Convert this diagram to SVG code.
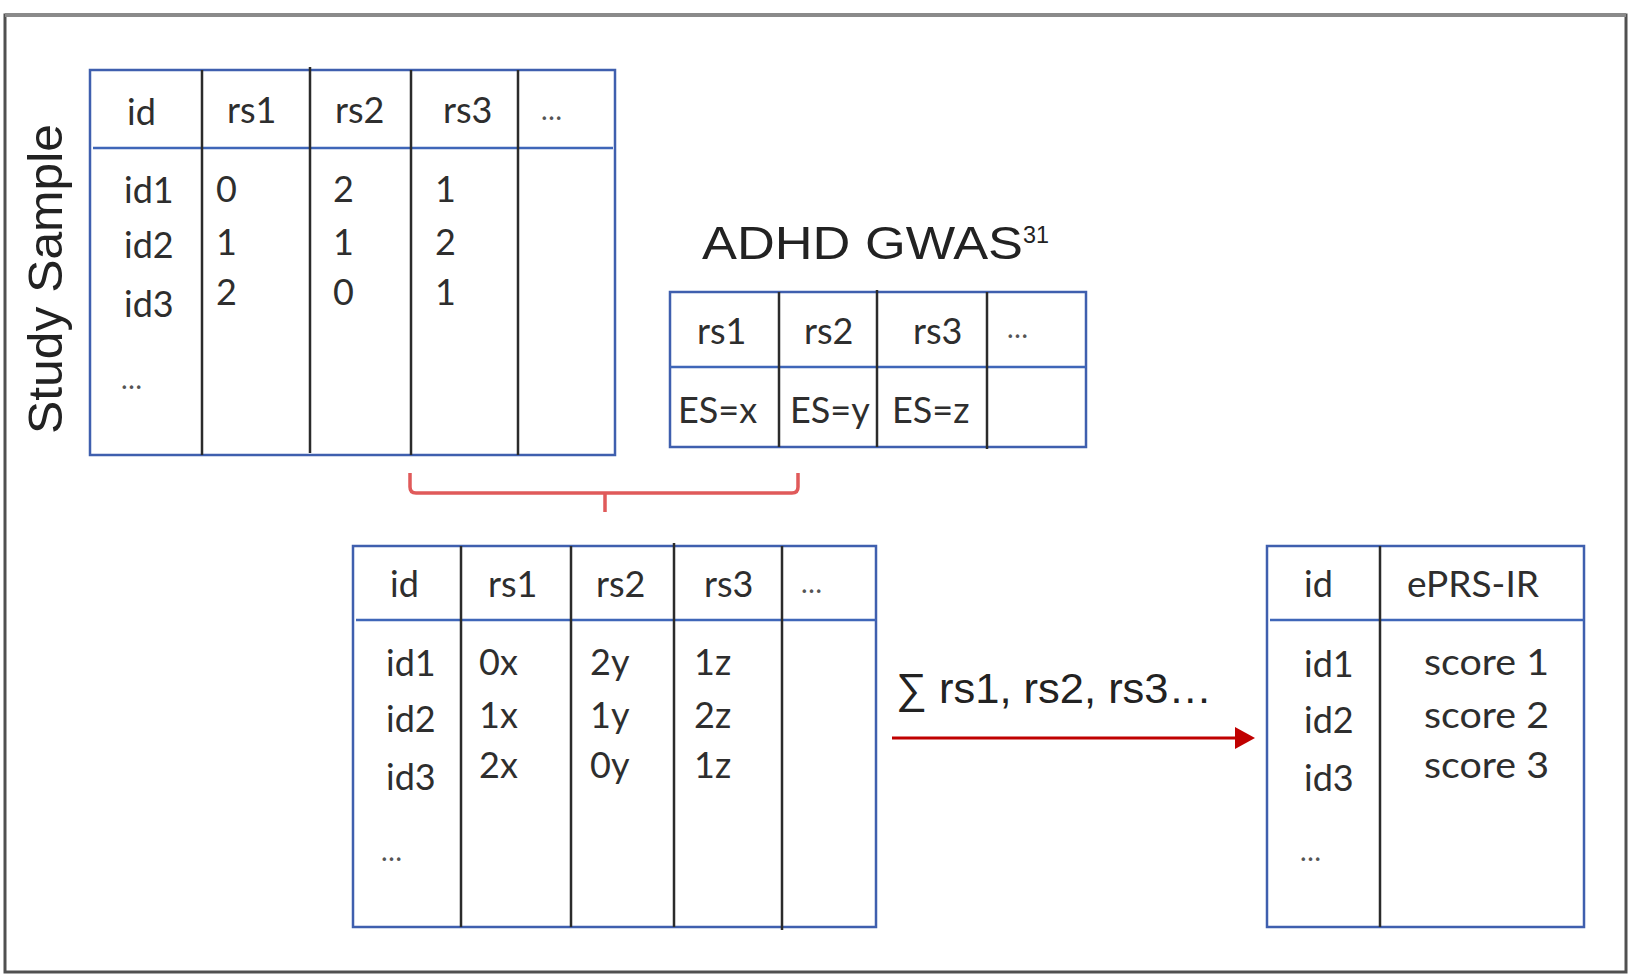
<svg xmlns="http://www.w3.org/2000/svg" width="1628" height="976" viewBox="0 0 1628 976">
<style>
.tb{fill:#fff;stroke:#3f5fae;stroke-width:2.5}
.hd{stroke:#3f66b8;stroke-width:2.5}
.col{stroke:#2b2b2b;stroke-width:2.5}
.t{font-family:Lato,"Open Sans",sans-serif;font-size:36px;fill:#2e2e2e}
.dots{font-family:Lato,"Open Sans",sans-serif;font-size:28px;fill:#555}
.a{font-family:"Liberation Sans",Arial,sans-serif;fill:#222}
</style>
<defs>
<marker id="ah" viewBox="0 0 20 22" refX="1" refY="11" markerWidth="20" markerHeight="22" markerUnits="userSpaceOnUse" orient="auto">
<polygon points="0,0 20,11 0,22" fill="#c00000"/>
</marker>
</defs>
<rect x="5" y="15" width="1621" height="957" fill="#fff" stroke="#505050" stroke-width="3"/>
<line x1="5" y1="15" x2="1626" y2="15" stroke="#8a8a8a" stroke-width="4"/>

<g id="label-study">
<text class="a" x="0" y="0" font-size="48" text-anchor="middle" textLength="310" lengthAdjust="spacingAndGlyphs" transform="translate(62,279) rotate(-90)">Study Sample</text>
</g>

<g id="table-study">
<rect class="tb" x="90" y="70" width="525" height="385"/>
<line class="hd" x1="93" y1="148" x2="613" y2="148"/>
<line class="col" x1="202" y1="70" x2="202" y2="455"/>
<line class="col" x1="310" y1="67" x2="310" y2="453"/>
<line class="col" x1="411" y1="70" x2="411" y2="455"/>
<line class="col" x1="518" y1="70" x2="518" y2="455"/>
<text class="t" x="127" y="125">id</text>
<text class="t" x="227" y="123">rs1</text>
<text class="t" x="335" y="123">rs2</text>
<text class="t" x="443" y="123">rs3</text>
<text class="dots" x="541" y="120">…</text>
<text class="t" x="124" y="203">id1</text>
<text class="t" x="124" y="258">id2</text>
<text class="t" x="124" y="317">id3</text>
<text class="dots" x="121" y="389">…</text>
<text class="t" x="216" y="202">0</text>
<text class="t" x="216" y="255">1</text>
<text class="t" x="216" y="305">2</text>
<text class="t" x="333" y="202">2</text>
<text class="t" x="333" y="255">1</text>
<text class="t" x="333" y="305">0</text>
<text class="t" x="435" y="202">1</text>
<text class="t" x="435" y="255">2</text>
<text class="t" x="435" y="305">1</text>
</g>

<g id="label-gwas">
<text class="a" x="702" y="259" font-size="47" textLength="321" lengthAdjust="spacingAndGlyphs">ADHD GWAS</text>
<text class="a" x="1023" y="243" font-size="23" textLength="26" lengthAdjust="spacingAndGlyphs">31</text>
</g>

<g id="table-gwas">
<rect class="tb" x="670" y="292" width="416" height="155"/>
<line class="hd" x1="670" y1="367" x2="1086" y2="367"/>
<line class="col" x1="779" y1="292" x2="779" y2="447"/>
<line class="col" x1="877" y1="290" x2="877" y2="447"/>
<line class="col" x1="987" y1="292" x2="987" y2="449"/>
<text class="t" x="697" y="344">rs1</text>
<text class="t" x="804" y="344">rs2</text>
<text class="t" x="913" y="344">rs3</text>
<text class="dots" x="1007" y="338">…</text>
<text class="t" x="678" y="423">ES=x</text>
<text class="t" x="790" y="423">ES=y</text>
<text class="t" x="892" y="423">ES=z</text>
</g>

<g id="table-combined">
<rect class="tb" x="353" y="546" width="523" height="381"/>
<line class="hd" x1="356" y1="620" x2="876" y2="620"/>
<line class="col" x1="461" y1="546" x2="461" y2="927"/>
<line class="col" x1="571" y1="546" x2="571" y2="927"/>
<line class="col" x1="674" y1="543" x2="674" y2="927"/>
<line class="col" x1="782" y1="546" x2="782" y2="930"/>
<text class="t" x="390" y="597">id</text>
<text class="t" x="488" y="597">rs1</text>
<text class="t" x="596" y="597">rs2</text>
<text class="t" x="704" y="597">rs3</text>
<text class="dots" x="801" y="593">…</text>
<text class="t" x="386" y="676">id1</text>
<text class="t" x="386" y="732">id2</text>
<text class="t" x="386" y="790">id3</text>
<text class="dots" x="381" y="861">…</text>
<text class="t" x="479" y="675">0x</text>
<text class="t" x="479" y="728">1x</text>
<text class="t" x="479" y="778">2x</text>
<text class="t" x="590" y="675">2y</text>
<text class="t" x="590" y="728">1y</text>
<text class="t" x="590" y="778">0y</text>
<text class="t" x="694" y="675">1z</text>
<text class="t" x="694" y="728">2z</text>
<text class="t" x="694" y="778">1z</text>
</g>

<g id="table-eprs">
<rect class="tb" x="1267" y="546" width="317" height="381"/>
<line class="hd" x1="1270" y1="620" x2="1584" y2="620"/>
<line class="col" x1="1380" y1="546" x2="1380" y2="927"/>
<text class="t" x="1304" y="597">id</text>
<text class="t" x="1407" y="597" textLength="132" lengthAdjust="spacingAndGlyphs">ePRS-IR</text>
<text class="t" x="1304" y="677">id1</text>
<text class="t" x="1304" y="733">id2</text>
<text class="t" x="1304" y="791">id3</text>
<text class="dots" x="1300" y="861">…</text>
<text class="t" x="1424" y="675" textLength="125" lengthAdjust="spacingAndGlyphs">score 1</text>
<text class="t" x="1424" y="728" textLength="125" lengthAdjust="spacingAndGlyphs">score 2</text>
<text class="t" x="1424" y="778" textLength="125" lengthAdjust="spacingAndGlyphs">score 3</text>
</g>

<g id="connectors">
<path d="M410,473 L410,487 Q410,493 416,493 L792,493 Q798,493 798,487 L798,473 M605,493 L605,512" fill="none" stroke="#e05a5a" stroke-width="3.5"/>
<line x1="892" y1="738" x2="1236" y2="738" stroke="#c00000" stroke-width="3" marker-end="url(#ah)"/>
<text class="a" x="896" y="703" font-size="42" textLength="316" lengthAdjust="spacingAndGlyphs">∑ rs1, rs2, rs3…</text>
</g>
</svg>
